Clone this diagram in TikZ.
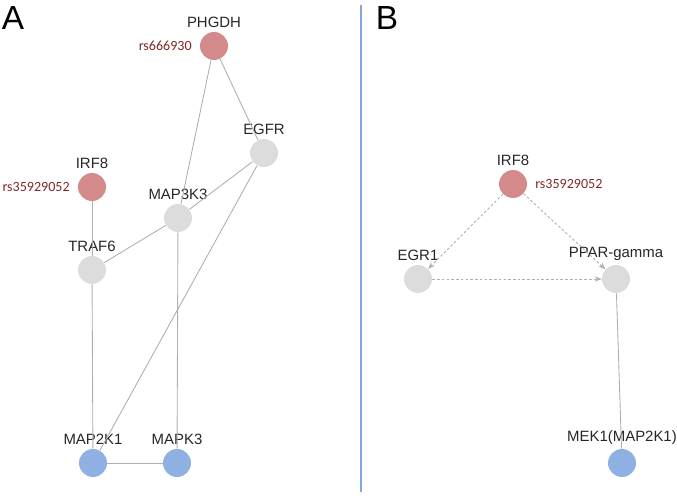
\documentclass[tikz,border=0pt]{standalone}
\usepackage{fontspec}
\setmainfont{Liberation Sans}
\newfontfamily\snpfont{Carlito}
\usepackage{xcolor}
\usepackage{tikz}
\usetikzlibrary{arrows.meta,positioning}
\definecolor{snpred}{RGB}{212,138,138}
\definecolor{genegray}{RGB}{220,220,220}
\definecolor{kinblue}{RGB}{143,176,227}
\definecolor{snptext}{RGB}{130,40,40}
\definecolor{edgegray}{RGB}{175,175,175}
\definecolor{divblue}{RGB}{130,168,218}

\begin{document}
\begin{tikzpicture}[x=0.02cm, y=-0.02cm,
      gene/.style={circle, minimum size=0.56cm, inner sep=0pt, fill=genegray},
      snpgene/.style={gene, fill=snpred},
      kinase/.style={gene, fill=kinblue},
      lab/.style={font=\fontsize{8.5}{10}\selectfont, text=black!85},
      snp/.style={font=\snpfont\fontsize{8}{9}\selectfont, text=snptext},
      link/.style={edgegray, line width=0.5pt},
      reg/.style={link, dash pattern=on 1.5pt off 1.2pt, -{Stealth[length=4pt,width=3pt]}}]
      \useasboundingbox (0,0) rectangle (677,496);
      % panel A
      \node[font=\fontsize{19}{19}\selectfont] (pA) at (13,18) {A};
      \node[snpgene] (phgdh) at (214,46) {};
      \node[gene] (egfr) at (264,153) {};
      \node[snpgene] (irf8a) at (92,187) {};
      \node[gene] (map3k3) at (178,218) {};
      \node[gene] (traf6) at (92,270) {};
      \node[kinase] (map2k1) at (93,463) {};
      \node[kinase] (mapk3) at (177,463) {};
      \node[lab, above=-1pt of phgdh] {PHGDH};
      \node[lab, above=-1pt of egfr] {EGFR};
      \node[lab, above=-1pt of irf8a] {IRF8};
      \node[lab, above=-1pt of map3k3] {MAP3K3};
      \node[lab, above=-1pt of traf6] {TRAF6};
      \node[lab, above=-1pt of map2k1] {MAP2K1};
      \node[lab, above=-1pt of mapk3] {MAPK3};
      \node[snp, left=1pt of phgdh] {rs666930};
      \node[snp, left=1pt of irf8a] {rs35929052};
      \draw[link] (phgdh) -- (map3k3);
      \draw[link] (phgdh) -- (egfr);
      \draw[link] (egfr) -- (map3k3);
      \draw[link] (egfr) -- (map2k1);
      \draw[link] (irf8a) -- (traf6);
      \draw[link] (traf6) -- (map3k3);
      \draw[link] (traf6) -- (map2k1);
      \draw[link] (map3k3) -- (mapk3);
      \draw[link] (map2k1) -- (mapk3);
      % divider
      \coordinate (divtop) at (361,5);
      \coordinate (divbot) at (361,492);
      \draw[divblue, line width=0.6pt] (divtop) -- (divbot);
      % panel B
      \node[font=\fontsize{19}{19}\selectfont] (pB) at (387,18) {B};
      \node[snpgene] (irf8b) at (513,184) {};
      \node[gene] (egr1) at (418,279) {};
      \node[gene] (ppar) at (616,279) {};
      \node[kinase] (mek1) at (622,463) {};
      \node[lab, above=-1pt of irf8b] {IRF8};
      \node[lab, above=-1pt of egr1] {EGR1};
      \node[lab, above=-1pt of ppar] {PPAR-gamma};
      \node[lab, above=-1pt of mek1] {MEK1(MAP2K1)};
      \node[snp, right=1pt of irf8b] {rs35929052};
      \draw[reg] (irf8b) -- (egr1);
      \draw[reg] (irf8b) -- (ppar);
      \draw[reg] (egr1) -- (ppar);
      \draw[link] (ppar) -- (mek1);
\end{tikzpicture}
\end{document}
